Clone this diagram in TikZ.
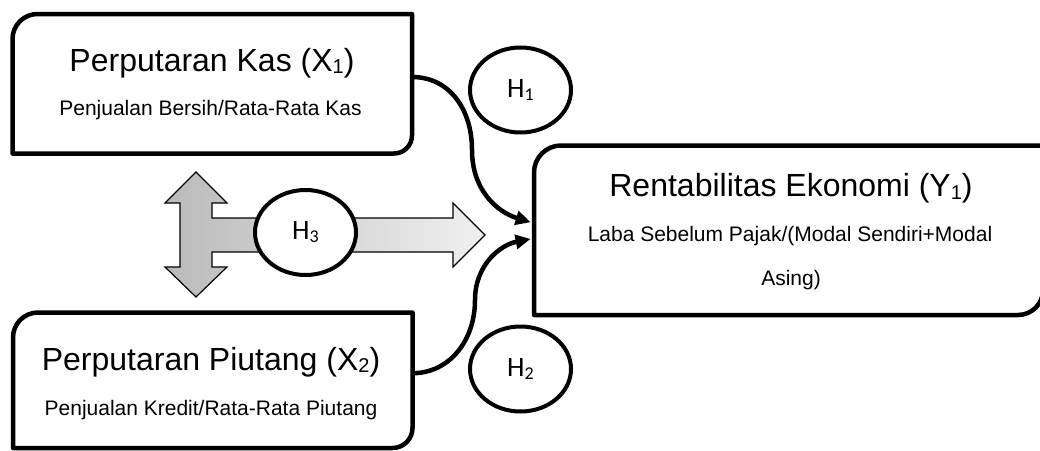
\documentclass[tikz,border=0pt]{standalone}
\usepackage{fontspec}
\setmainfont{Liberation Sans}
\newfontfamily\carlitofam{Carlito}
\usetikzlibrary{arrows.meta,shapes.geometric,calc}
\definecolor{arrL}{RGB}{186,186,186}
\definecolor{arrR}{RGB}{240,240,240}
\newcommand\tsub[1]{\raisebox{-2.5pt}{\fontsize{20}{20}\selectfont #1}}
\newcommand\hsub[1]{\raisebox{-3pt}{\fontsize{18}{18}\selectfont #1}}
\newcommand\wordbox[3]{%
  \draw[boxline] (#1.north east)
    -- ([yshift=#3]#1.south east)
    .. controls ($([yshift=#3]#1.south east)!0.552!(#1.south east)$) and ($([xshift=-#3]#1.south east)!0.552!(#1.south east)$) .. ([xshift=-#3]#1.south east)
    -- (#1.south west)
    -- ([yshift=-#2]#1.north west)
    .. controls ($([yshift=-#2]#1.north west)!0.552!(#1.north west)$) and ($([xshift=#2]#1.north west)!0.552!(#1.north west)$) .. ([xshift=#2]#1.north west)
    -- cycle;}
\begin{document}
\begin{tikzpicture}[x=1pt,y=-1pt,
  boxline/.style={line width=4.5pt, line join=round},
  boxarea/.style={rectangle, inner sep=0pt, outer sep=0pt},
  ttl/.style={anchor=base, inner sep=0pt},
  sub/.style={anchor=base, inner sep=0pt},
  hyp/.style={ellipse, draw, line width=4pt, fill=white, inner sep=0pt,
    minimum width=101pt, minimum height=85pt},
  link/.style={line width=4.5pt, -{Triangle[length=15pt,width=14pt]}, shorten >=3.5pt},
  bigarrow/.style={line width=1.2pt, line join=miter, left color=arrL, right color=arrR},
]
\useasboundingbox (0,0) rectangle (1040,450);
\clip (0,0) rectangle (1040,450);

% box areas
\node[boxarea, minimum width=399.5pt, minimum height=139.5pt] (x1) at (212.25,83.75) {};
\node[boxarea, minimum width=399.5pt, minimum height=135.5pt] (x2) at (212.75,380.25) {};
\node[boxarea, minimum width=509pt, minimum height=169.5pt] (y1) at (788.5,230.25) {};

% combined up-down / right arrow
\draw[bigarrow] (196,172) -- (227,203) -- (212,203) -- (212,218) -- (453,218) -- (453,203)
  -- (485,235) -- (453,267) -- (453,252) -- (212,252) -- (212,267) -- (227,267)
  -- (196,297) -- (165,267) -- (180,267) -- (180,203) -- (165,203) -- cycle;

% connectors
\draw[link] ([yshift=6.75pt]x1.east) .. controls (450,77) and (472,110) .. (472,150)
  .. controls (472,190) and (497,212) .. ([yshift=7pt]y1.west);
\draw[link] ([yshift=7pt]x2.east) .. controls (450,373) and (475,340) .. (475,300)
  .. controls (475,265) and (500,245) .. ([yshift=-8pt]y1.west);

% box outlines
\wordbox{x1}{25pt}{18pt}
\wordbox{x2}{25pt}{20pt}
\wordbox{y1}{27pt}{25pt}

% texts
\node[ttl] (x1t) at (212,71) {\fontsize{32}{38}\selectfont Perputaran Kas (X\tsub{1})};
\node[sub] (x1s) at (210.5,115) {\fontsize{21}{25}\selectfont Penjualan Bersih/Rata-Rata Kas};
\node[ttl] (x2t) at (211,370) {\fontsize{32}{38}\selectfont Perputaran Piutang (X\tsub{2})};
\node[sub] (x2s) at (211,415) {\fontsize{21}{25}\selectfont Penjualan Kredit/Rata-Rata Piutang};
\node[ttl] (yt) at (791,196.5) {\fontsize{32}{38}\selectfont Rentabilitas Ekonomi (Y\tsub{1})};
\node[sub] (ys1) at (790,241.5) {\fontsize{21}{25}\selectfont Laba Sebelum Pajak/(Modal Sendiri+Modal};
\node[sub] (ys2) at (791,285) {\fontsize{21}{25}\selectfont Asing)};

% hypotheses
\node[hyp] (h1) at (520.5,90) {\carlitofam\fontsize{28}{32}\selectfont H\hsub{1}};
\node[hyp] (h2) at (520.5,369) {\carlitofam\fontsize{28}{32}\selectfont H\hsub{2}};
\node[hyp] (h3) at (305.5,232.5) {\carlitofam\fontsize{28}{32}\selectfont H\hsub{3}};
\end{tikzpicture}
\end{document}
